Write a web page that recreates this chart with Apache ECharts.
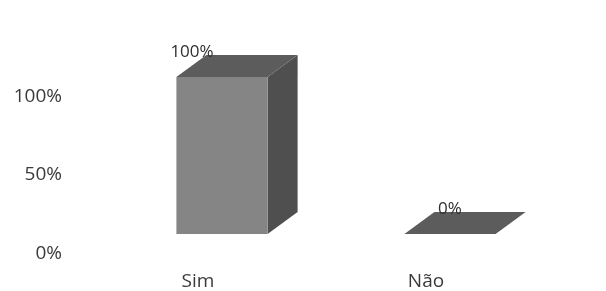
<!DOCTYPE html>
<html><head><meta charset="utf-8">
<script src="https://cdn.jsdelivr.net/npm/echarts@6/dist/echarts.min.js"></script>
<style>html,body{margin:0;padding:0;background:#fff}#c{width:606px;height:291px}</style>
</head><body><div id="c"></div>
<script>
const categories = ['Sim', 'Não'];
const values = [100, 0];
const yTicks = [0, 50, 100];

const chart = echarts.init(document.getElementById('c'));
const DX = 30, DY = -22;
chart.setOption({
  backgroundColor: '#ffffff',
  animation: false,
  grid: { left: 108, right: 42, top: 77, bottom: 57 },
  xAxis: {
    type: 'category', data: categories,
    axisLine: { show: false }, axisTick: { show: false },
    axisLabel: { color: '#3a3a3a', fontSize: 19, fontFamily: 'Open Sans', margin: 38, padding: [0, 48, 0, 0] }
  },
  yAxis: {
    type: 'value', min: 0, max: 100, interval: 50,
    splitLine: { show: false }, axisLine: { show: false }, axisTick: { show: false },
    axisLabel: { color: '#3a3a3a', fontSize: 19, fontFamily: 'Open Sans', margin: 46, verticalAlign: 'top', padding: [10, 0, 0, 0],
      formatter: v => yTicks.includes(v) ? v + '%' : '' }
  },
  series: [{
    type: 'custom',
    data: values.map((v, i) => [i, v]),
    renderItem: function (params, api) {
      const x = api.value(0), v = api.value(1);
      const base = api.coord([x, 0]), top = api.coord([x, v]);
      const bw = api.size([1, 0])[0] * 0.4;
      const l = base[0] - bw / 2, r = base[0] + bw / 2;
      const t = top[1], b = base[1];
      const children = [];
      children.push({ type: 'polygon', shape: { points: [[r, t], [r + DX, t + DY], [r + DX, b + DY], [r, b]] }, style: { fill: '#4f4f4f' } });
      children.push({ type: 'polygon', shape: { points: [[l, t], [l + DX, t + DY], [r + DX, t + DY], [r, t]] }, style: { fill: '#5c5c5c' } });
      if (b - t > 0) children.push({ type: 'rect', shape: { x: l, y: t, width: bw, height: b - t }, style: { fill: '#858585' } });
      children.push({ type: 'text', style: { text: v + '%', x: base[0] - 10 - (v > 0 ? 20 : -10), y: t + DY - 3, fill: '#2e2e2e', font: '17px "Open Sans"', align: 'center', verticalAlign: 'middle' } });
      return { type: 'group', children };
    }
  }]
});
</script></body></html>
